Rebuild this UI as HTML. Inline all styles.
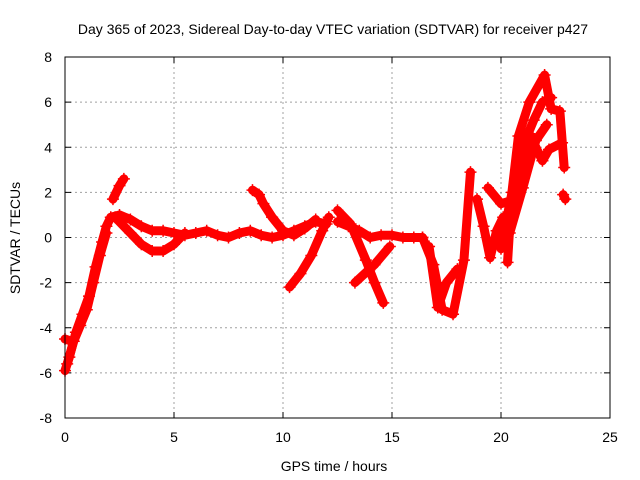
<!DOCTYPE html>
<html><head><meta charset="utf-8"><style>
body{margin:0;background:#fff;}
svg{display:block;font-family:"Liberation Sans",sans-serif;}
</style></head><body>
<svg id="chart" width="640" height="480">
<text x="333" y="34" font-size="14" text-anchor="middle">Day 365 of 2023, Sidereal Day-to-day VTEC variation (SDTVAR) for receiver p427</text>
<text x="334" y="471" font-size="14" text-anchor="middle">GPS time / hours</text>
<text transform="translate(20,238) rotate(-90)" font-size="14" text-anchor="middle">SDTVAR / TECUs</text>
<g id="grid"></g><g id="ticks"></g><g id="marks"></g>
<rect x="65" y="57" width="545" height="361" fill="none" stroke="#000" stroke-width="1"/>
</svg>
<script>
const xTicks=[0,5,10,15,20,25];
const yTicks=[-8,-6,-4,-2,0,2,4,6,8];
const trackMain=[[0,-5.9],[0.2,-5.3],[0.5,-4.2],[0.8,-3.4],[1.1,-2.6],[1.4,-1.3],[1.7,-0.2],[1.9,0.5],[2.1,0.9],[2.5,1.0],[3,0.8],[3.5,0.5],[4,0.3],[4.5,0.3],[5,0.2],[5.5,0.1],[6,0.2],[6.5,0.3],[7,0.1],[7.5,0.0],[8,0.2],[8.5,0.3],[9,0.1],[9.5,0.0],[10,0.1],[10.5,0.3],[11,0.5],[11.5,0.7],[12,0.6]];
const trackMain2=[[0.1,-5.6],[0.4,-4.6],[0.7,-3.9],[1.0,-3.2],[1.3,-2.0],[1.6,-0.8],[1.9,0.2]];
const trackLow=[[2.3,0.9],[3,0.2],[3.5,-0.3],[4,-0.6],[4.5,-0.6],[5,-0.3],[5.5,0.2]];
const trackEarly=[[0,-4.5],[0.3,-4.6]];
const trackHigh=[[2.2,1.7],[2.5,2.3],[2.7,2.6]];
const trackNoon=[[8.6,2.1],[8.9,1.9],[9.1,1.5],[9.5,0.9],[10,0.3],[10.5,0.1],[11,0.4],[11.5,0.8]];
const trackRise=[[10.3,-2.2],[10.8,-1.6],[11.3,-0.8],[11.8,0.3],[12.1,0.9]];
const trackMid=[[12.5,0.7],[13,0.5],[13.5,0.3],[14,0.0],[14.5,0.1],[15,0.1],[15.5,0.0],[16,0.0],[16.4,0.0]];
const trackCrossA=[[12.5,1.2],[13.1,0.6],[13.8,-1.0],[14.2,-2.0],[14.6,-2.9]];
const trackCrossB=[[14.9,-0.4],[14.2,-1.2],[13.3,-2.0]];
const trackDip=[[16.4,0.0],[16.9,-1.2],[17.3,-3.2],[17.8,-3.4],[18.3,-1.0],[18.6,2.9]];
const trackDip2=[[16.7,-0.4],[17.1,-3.1],[17.5,-2.0],[18.0,-1.4]];
const trackEveD=[[18.9,1.7],[19.2,0.5],[19.5,-0.9],[19.8,0.3],[20.1,0.9]];
const trackEveA=[[20.3,-1.1],[20.5,2.0],[20.8,4.5],[21.3,6.0],[22.0,7.2],[22.3,5.7],[22.7,5.6],[22.9,3.1]];
const trackEveB=[[19.4,2.2],[20.0,1.5],[20.7,1.7],[21.3,4.6],[21.9,3.4],[22.2,3.9],[22.8,4.2]];
const trackEveC=[[20.4,0.2],[21.0,2.2],[21.6,4.3],[22.1,5.0]];
const trackEveE=[[20.0,-0.5],[20.4,1.5],[20.9,3.8],[21.5,5.2],[21.9,6.0],[22.3,6.2]];
const trackLate=[[22.85,1.9],[22.95,1.7]];
const tracks=[trackMain,trackMain2,trackLow,trackEarly,trackHigh,trackNoon,trackRise,trackMid,trackCrossA,trackCrossB,trackDip,trackDip2,trackEveD,trackEveA,trackEveB,trackEveC,trackEveE,trackLate];
const X=t=>65+t*545/25, Y=v=>237.5-v*361/16;
const NS="http://www.w3.org/2000/svg";
function mk(tag,attrs,parent){const e=document.createElementNS(NS,tag);for(const k in attrs)e.setAttribute(k,attrs[k]);parent.appendChild(e);return e;}
const grid=document.getElementById('grid'),ticks=document.getElementById('ticks'),marks=document.getElementById('marks');
xTicks.forEach(t=>{
 if(t>0&&t<25){const g=mk('line',{x1:X(t),x2:X(t),y1:57,y2:418,stroke:'#a0a0a0','stroke-dasharray':'2,3'},grid);
 
 }
 mk('line',{x1:X(t),x2:X(t),y1:418,y2:412,stroke:'#000'},ticks);
 mk('line',{x1:X(t),x2:X(t),y1:57,y2:63,stroke:'#000'},ticks);
 const l=mk('text',{x:X(t),y:442,'font-size':14,'text-anchor':'middle'},ticks);l.textContent=t;
 
 
});
yTicks.forEach(v=>{
 if(v>-8&&v<8){const g=mk('line',{x1:65,x2:610,y1:Y(v),y2:Y(v),stroke:'#a0a0a0','stroke-dasharray':'2,3'},grid);
 
 }
 mk('line',{x1:65,x2:71,y1:Y(v),y2:Y(v),stroke:'#000'},ticks);
 mk('line',{x1:604,x2:610,y1:Y(v),y2:Y(v),stroke:'#000'},ticks);
 const l=mk('text',{x:52,y:Y(v)+5,'font-size':14,'text-anchor':'end'},ticks);l.textContent=v;
 
 
});
tracks.forEach(tr=>{
 const p=mk('polyline',{points:tr.map(d=>X(d[0])+','+Y(d[1])).join(' '),fill:'none',stroke:'#ff0000','stroke-width':9,'stroke-linejoin':'round','stroke-linecap':'round'},marks);
 
 
 tr.forEach(d=>{const x=X(d[0]),y=Y(d[1]);
  const m=mk('path',{d:`M${x-6},${y}H${x+6}M${x},${y-6}V${y+6}`,stroke:'#ff0000','stroke-width':1.5},marks);
  
  
 });
});
</script>
</body></html>
